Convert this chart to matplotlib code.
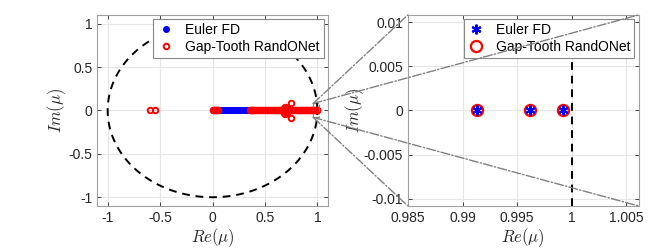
import matplotlib.pyplot as plt
import numpy as np
from matplotlib.patches import ConnectionPatch, Rectangle

plt.rcParams['font.family'] = ['Liberation Sans', 'DejaVu Sans']
plt.rcParams['mathtext.fontset'] = 'cm'

# Euler FD eigenvalues (all real)
euler_re = [0.000, 0.015, 0.030, 0.045, 0.060, 0.075, 0.090, 0.105, 0.120, 0.135,
            0.150, 0.165, 0.180, 0.195, 0.210, 0.225, 0.240, 0.255, 0.270, 0.285,
            0.300, 0.315, 0.330, 0.345, 0.360, 0.380, 0.400, 0.420, 0.440, 0.460,
            0.480, 0.500, 0.520, 0.540, 0.560, 0.580, 0.600, 0.620, 0.640, 0.660,
            0.690, 0.730, 0.770, 0.790, 0.810, 0.830, 0.850, 0.870, 0.890, 0.910,
            0.930, 0.950, 0.965, 0.978, 0.9913, 0.9962, 0.9992]
euler_im = [0.0] * len(euler_re)

# Gap-Tooth RandONet eigenvalues
gt_re = [-0.600, -0.550,
         0.000, 0.010, 0.020, 0.030, 0.040, 0.050,
         0.360, 0.365, 0.375, 0.390, 0.405, 0.420, 0.440, 0.460, 0.480, 0.500,
         0.520, 0.540, 0.560, 0.580, 0.600, 0.615, 0.630, 0.645, 0.660,
         0.670, 0.680, 0.680, 0.695, 0.695, 0.710, 0.710, 0.720,
         0.750, 0.750, 0.760, 0.780,
         0.800, 0.815, 0.830, 0.845, 0.860, 0.875, 0.890, 0.905, 0.920, 0.935,
         0.950, 0.965, 0.978, 0.9913, 0.9962, 0.9992]
gt_im = [0.0, 0.0,
         0.0, 0.0, 0.0, 0.0, 0.0, 0.0,
         0.0, 0.0, 0.0, 0.0, 0.0, 0.0, 0.0, 0.0, 0.0, 0.0,
         0.0, 0.0, 0.0, 0.0, 0.0, 0.0, 0.0, 0.0, 0.0,
         0.0, 0.03, -0.03, 0.04, -0.04, 0.025, -0.025, 0.0,
         0.09, -0.09, 0.0, 0.0,
         0.0, 0.0, 0.0, 0.0, 0.0, 0.0, 0.0, 0.0, 0.0, 0.0,
         0.0, 0.0, 0.0, 0.0, 0.0, 0.0]

fig = plt.figure(figsize=(6.61, 2.49), dpi=100)
ax1 = fig.add_axes([0.147, 0.173, 0.349, 0.767])
ax2 = fig.add_axes([0.617, 0.173, 0.349, 0.767])

tick_col = '#262626'
for ax in (ax1, ax2):
    ax.grid(True, color='#e6e6e6', linewidth=0.8)
    ax.set_axisbelow(True)
    ax.tick_params(direction='in', top=True, right=True, labelsize=10,
                   colors=tick_col, length=3, width=0.6)
    for s in ax.spines.values():
        s.set_color('#a0a0a0')
        s.set_linewidth(0.8)

# left: unit circle and spectrum
th = np.linspace(0, 2 * np.pi, 400)
ax1.plot(np.cos(th), np.sin(th), 'k--', lw=1.4, dashes=(4, 3))
ax1.plot(euler_re, euler_im, 'o', color='blue', ms=4, mec='blue', label='Euler FD', zorder=3)
ax1.plot(gt_re, gt_im, 'o', mfc='none', mec='red', ms=4, mew=1.4,
         label='Gap-Tooth RandONet', zorder=4)
ax1.set_xlim(-1.1, 1.1)
ax1.set_ylim(-1.1, 1.1)
ax1.set_xticks([-1, -0.5, 0, 0.5, 1])
ax1.set_xticklabels(['-1', '-0.5', '0', '0.5', '1'])
ax1.set_yticks([-1, -0.5, 0, 0.5, 1])
ax1.set_yticklabels(['-1', '-0.5', '0', '0.5', '1'])
ax1.set_xlabel(r'$Re(\mu)$', fontsize=12, color=tick_col, labelpad=1)
ax1.set_ylabel(r'$Im(\mu)$', fontsize=12, color=tick_col, labelpad=0)
leg1 = ax1.legend(loc='upper right', fontsize=10, fancybox=False, framealpha=1,
                  edgecolor='#888888', borderpad=0.3, handlelength=1.2,
                  handletextpad=0.8, borderaxespad=0.3, labelspacing=0.2)
leg1.get_frame().set_linewidth(0.8)

# right: zoom near 1
ax2.axvline(1.0, color='k', ls='--', lw=1.4, dashes=(4, 3))
ax2.plot(euler_re, euler_im, marker=(6, 2, 0), ls='none', color='blue', ms=7, mew=1.5,
         label='Euler FD', zorder=4)
ax2.plot(gt_re, gt_im, 'o', mfc='none', mec='red', ms=8, mew=1.6,
         label='Gap-Tooth RandONet', zorder=3)
ax2.set_xlim(0.985, 1.0061)
ax2.set_ylim(-0.0108, 0.0108)
ax2.set_xticks([0.985, 0.99, 0.995, 1.0, 1.005])
ax2.set_xticklabels(['0.985', '0.99', '0.995', '1', '1.005'])
ax2.set_yticks([-0.01, -0.005, 0, 0.005, 0.01])
ax2.set_yticklabels(['-0.01', '-0.005', '0', '0.005', '0.01'])
ax2.set_xlabel(r'$Re(\mu)$', fontsize=12, color=tick_col, labelpad=1)
ax2.set_ylabel(r'$Im(\mu)$', fontsize=12, color=tick_col, labelpad=-2)
leg2 = ax2.legend(loc='upper right', fontsize=10, fancybox=False, framealpha=1,
                  edgecolor='#888888', borderpad=0.3, handlelength=1.2,
                  handletextpad=0.8, borderaxespad=0.3, labelspacing=0.2)
leg2.get_frame().set_linewidth(0.8)

# zoom box and connector lines
box = [0.96, -0.08, 0.06, 0.16]
ax1.add_patch(Rectangle((box[0], box[1]), box[2], box[3], fill=False,
                        ec='#808080', lw=0.8, ls='-.', zorder=5))
starts = [(box[0], box[1] + box[3]), (box[0], box[1] + box[3]),
          (box[0], box[1]), (box[0], box[1])]
ends = [(0, 1), (1, 1), (0, 0), (1, 0)]
for a, b in zip(starts, ends):
    cp = ConnectionPatch(xyA=a, coordsA=ax1.transData, xyB=b, coordsB=ax2.transAxes,
                         color='#808080', lw=1.0, ls='-.', zorder=10)
    fig.add_artist(cp)

fig.savefig('out.png', dpi=100)
